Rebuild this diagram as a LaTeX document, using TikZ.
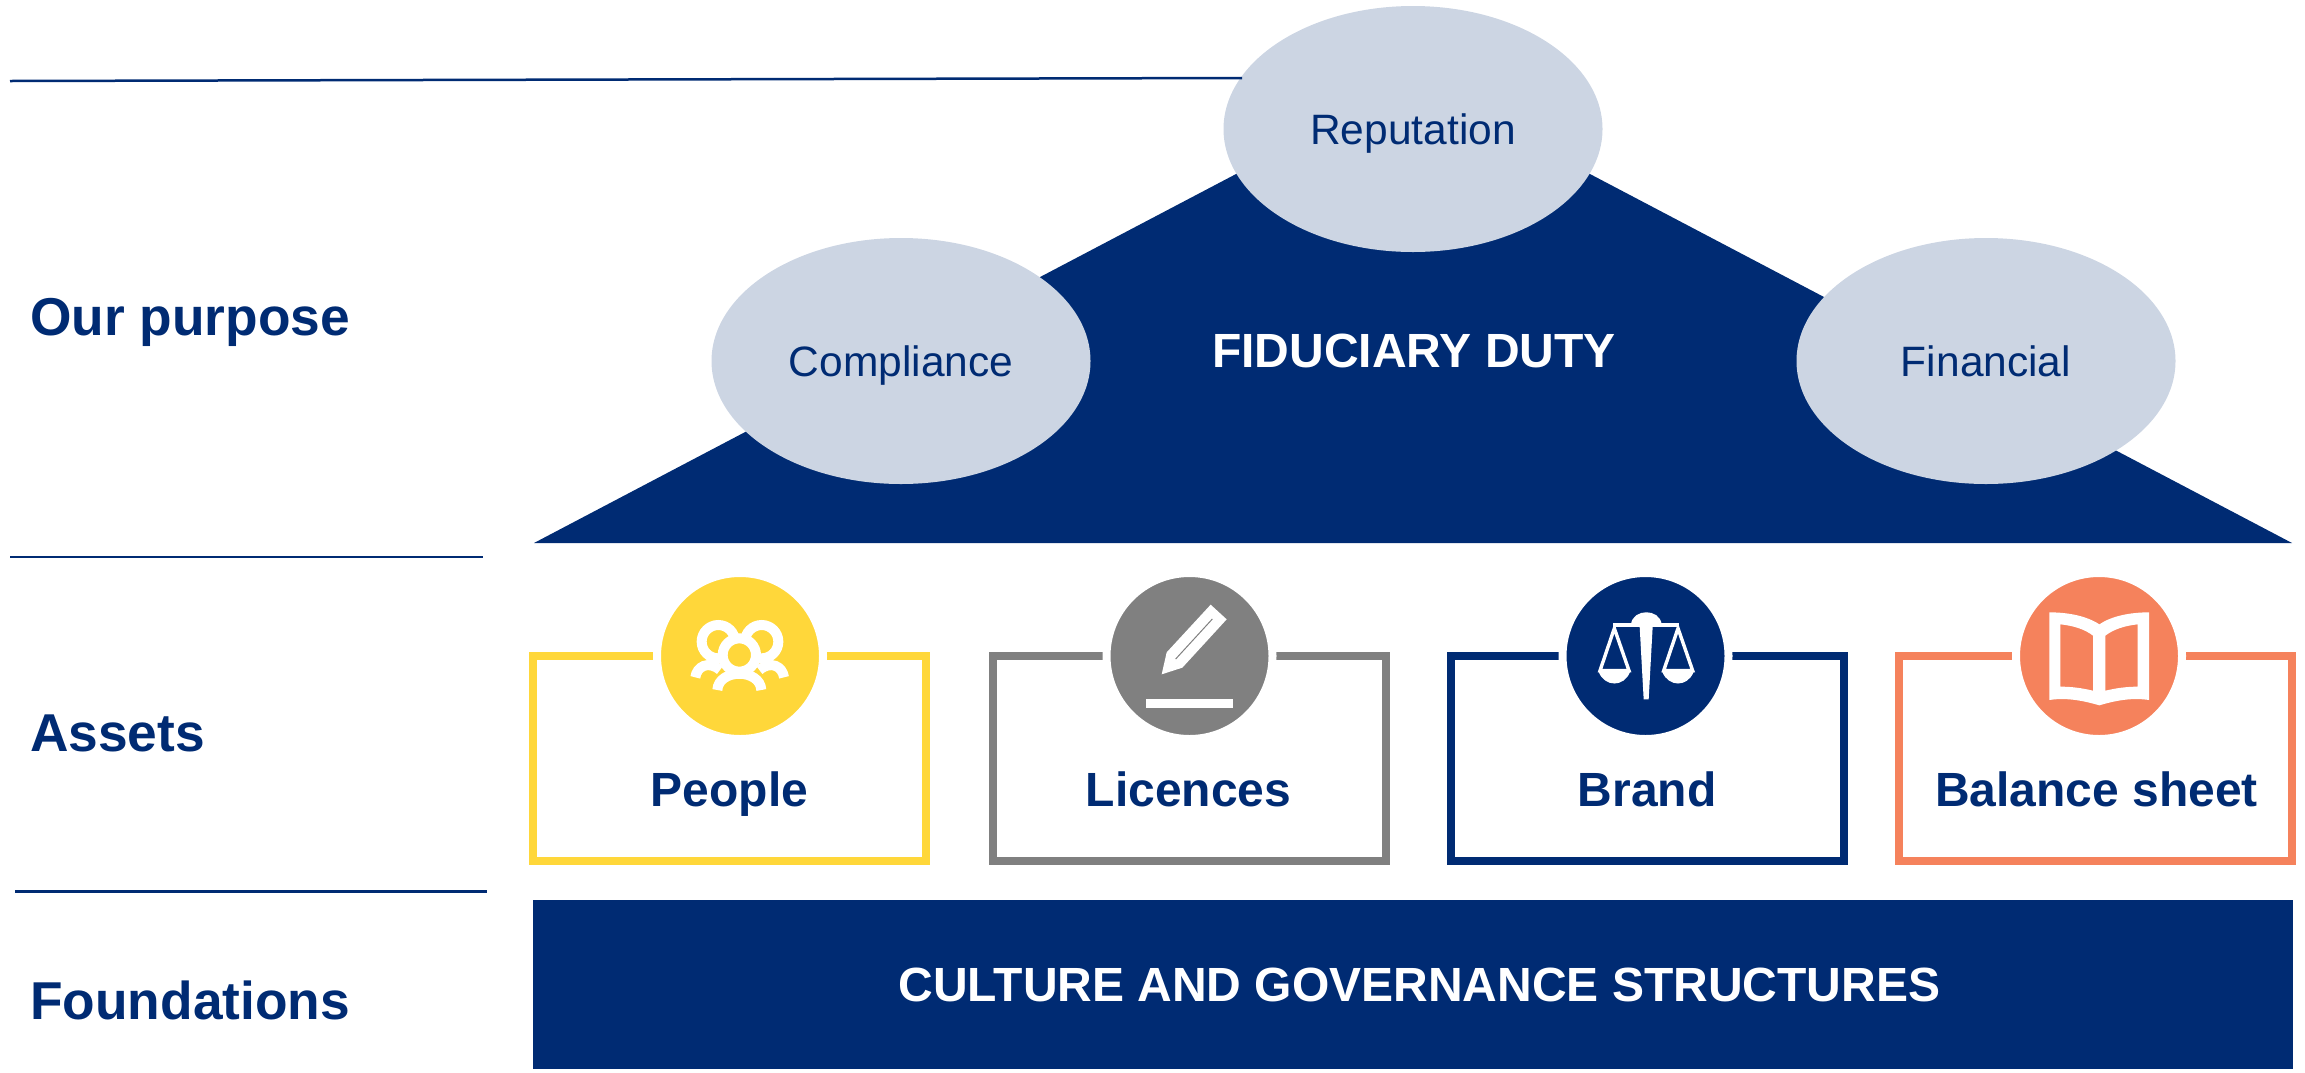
\documentclass[tikz,border=0pt]{standalone}
\usepackage{fontspec}
\setmainfont{Liberation Sans}
\usetikzlibrary{shapes.geometric}
\definecolor{navy}{HTML}{002B73}
\definecolor{pale}{HTML}{CCD5E3}
\definecolor{sun}{HTML}{FFD73A}
\definecolor{slate}{HTML}{808080}
\definecolor{coral}{HTML}{F5825C}
\tikzset{
  x=1pt,y=-1pt,
  rule/.style={draw=navy,line width=2.5pt},
  oval/.style={ellipse,fill=pale,text=navy,inner sep=0,outer sep=0,minimum width=379,minimum height=246,text height=36pt,text depth=5pt,font=\fontsize{42.5}{48}\selectfont},
  sidelabel/.style={anchor=base west,inner sep=0,text=navy,font=\fontsize{53.3}{60}\selectfont\bfseries},
  boxlabel/.style={anchor=base,inner sep=0,text=navy,font=\fontsize{48}{56}\selectfont\bfseries},
  banner/.style={anchor=base,inner sep=0,text=white,font=\fontsize{48}{56}\selectfont\bfseries},
  assetbox/.style={draw=#1,line width=8pt,fill=white,inner sep=0,outer sep=0,minimum width=393,minimum height=204.5},
  badge/.style={circle,fill=#1,draw=white,line width=8pt,inner sep=0,outer sep=0,minimum size=166},
  icon/.style={x=0.33333pt,y=-0.33333pt},
  glyph/.style={draw=white,line width=3.4pt,line cap=butt}
}
\begin{document}
\begin{tikzpicture}
\useasboundingbox (0,0) rectangle (2305,1072);
% purpose
\coordinate (apexl) at (534,543);
\coordinate (apexr) at (2292,543);
\coordinate (apex) at (1413,81);
\fill[navy] (apexl) -- (apex) -- (apexr) -- cycle;
\node[oval] (rep) at (1413,129) {Reputation};
\node[oval] (comp) at (901,361) {Compliance};
\node[oval] (fin) at (1986,361) {Financial};
\node[banner] (duty) at (1414,367) {FIDUCIARY DUTY};
% rules
\coordinate (r1) at (10,81);
\coordinate (r1e) at (1242,78);
\coordinate (r2) at (10,557);
\coordinate (r2e) at (483,557);
\coordinate (r3) at (15,891.5);
\coordinate (r3e) at (487,891.5);
\draw[rule] (r1) -- (r1e);
\draw[rule] (r2) -- (r2e);
\draw[rule] (r3) -- (r3e);
% side labels
\node[sidelabel] (lp) at (30,335) {Our purpose};
\node[sidelabel] (la) at (30,751) {Assets};
\node[sidelabel] (lf) at (30,1019) {Foundations};
% foundations
\node[fill=navy,inner sep=0,minimum width=1760,minimum height=169] (found) at (1413,984.5) {};
\node[banner] (ft) at (1419.5,1001) {CULTURE AND GOVERNANCE STRUCTURES};
% assets
\node[assetbox=sun] (b1) at (729.5,758.5) {};
\node[assetbox=slate] (b2) at (1189.5,758.5) {};
\node[assetbox=navy] (b3) at (1647.5,758.5) {};
\node[assetbox=coral] (b4) at (2095.5,758.5) {};
\node[badge=sun] (c1) at (740,656) {};
\node[badge=slate] (c2) at (1189.5,656) {};
\node[badge=navy] (c3) at (1645.5,656) {};
\node[badge=coral] (c4) at (2099,656) {};
\node[boxlabel] (t1) at (729.5,806) {People};
\node[boxlabel] (t2) at (1188.5,806) {Licences};
\node[boxlabel] (t3) at (1647,806) {Brand};
\node[boxlabel] (t4) at (2096.5,806) {Balance sheet};
% people icon
\begin{scope}[shift={(640,560)},icon]
\draw[white,line width=10pt] (235,245) circle [radius=50];
\draw[white,line width=10pt] (365,245) circle [radius=50];
\draw[white,line width=10pt] (166,352) .. controls (170,320) and (205,300) .. (240,330);
\draw[white,line width=10pt] (432,352) .. controls (428,320) and (393,300) .. (358,330);
\draw[white,line width=10pt] (232,390) .. controls (236,325) and (360,325) .. (364,390);
\draw[white,fill=sun,line width=10pt] (298,285) circle [radius=50];
\end{scope}
% pen icon
\begin{scope}[shift={(1090,560)},icon]
\fill[white] (362,134) -- (410,178) -- (277,323) -- (215,343) -- (230,277) -- cycle;
\draw[slate,line width=1pt] (367,177) -- (257,297);
\fill[white] (168,417) rectangle (429,443);
\end{scope}
% scales icon
\begin{scope}[shift={(1550,560)},icon]
\fill[white] (243,192) .. controls (250,145) and (328,145) .. (335,192) -- cycle;
\fill[white] (190,190) rectangle (386,200);
\fill[white] (269,200) -- (308,200) -- (296,418) -- (281,418) -- cycle;
\draw[glyph,line join=miter] (193,205) -- (150,332) -- (237,332) -- cycle;
\draw[glyph,line join=miter] (384,205) -- (341,332) -- (428,332) -- cycle;
\fill[white] (146,336) .. controls (165,382) and (222,382) .. (240,336) -- cycle;
\fill[white] (337,336) .. controls (356,382) and (412,382) .. (431,336) -- cycle;
\end{scope}
% book icon
\begin{scope}[shift={(2000,560)},icon]
\fill[white,even odd rule]
 (148,157) .. controls (205,157) and (260,168) .. (298,193) .. controls (335,168) and (390,157) .. (447,157)
 -- (447,420) .. controls (395,412) and (345,422) .. (298,436) .. controls (250,422) and (200,412) .. (148,420) -- cycle
 (181,193) .. controls (220,197) and (255,208) .. (279,227) -- (279,392) .. controls (245,384) and (215,380) .. (181,380) -- cycle
 (316,227) .. controls (340,208) and (375,197) .. (413,193) -- (413,380) .. controls (380,380) and (350,384) .. (316,392) -- cycle;
\end{scope}
\end{tikzpicture}
\end{document}
